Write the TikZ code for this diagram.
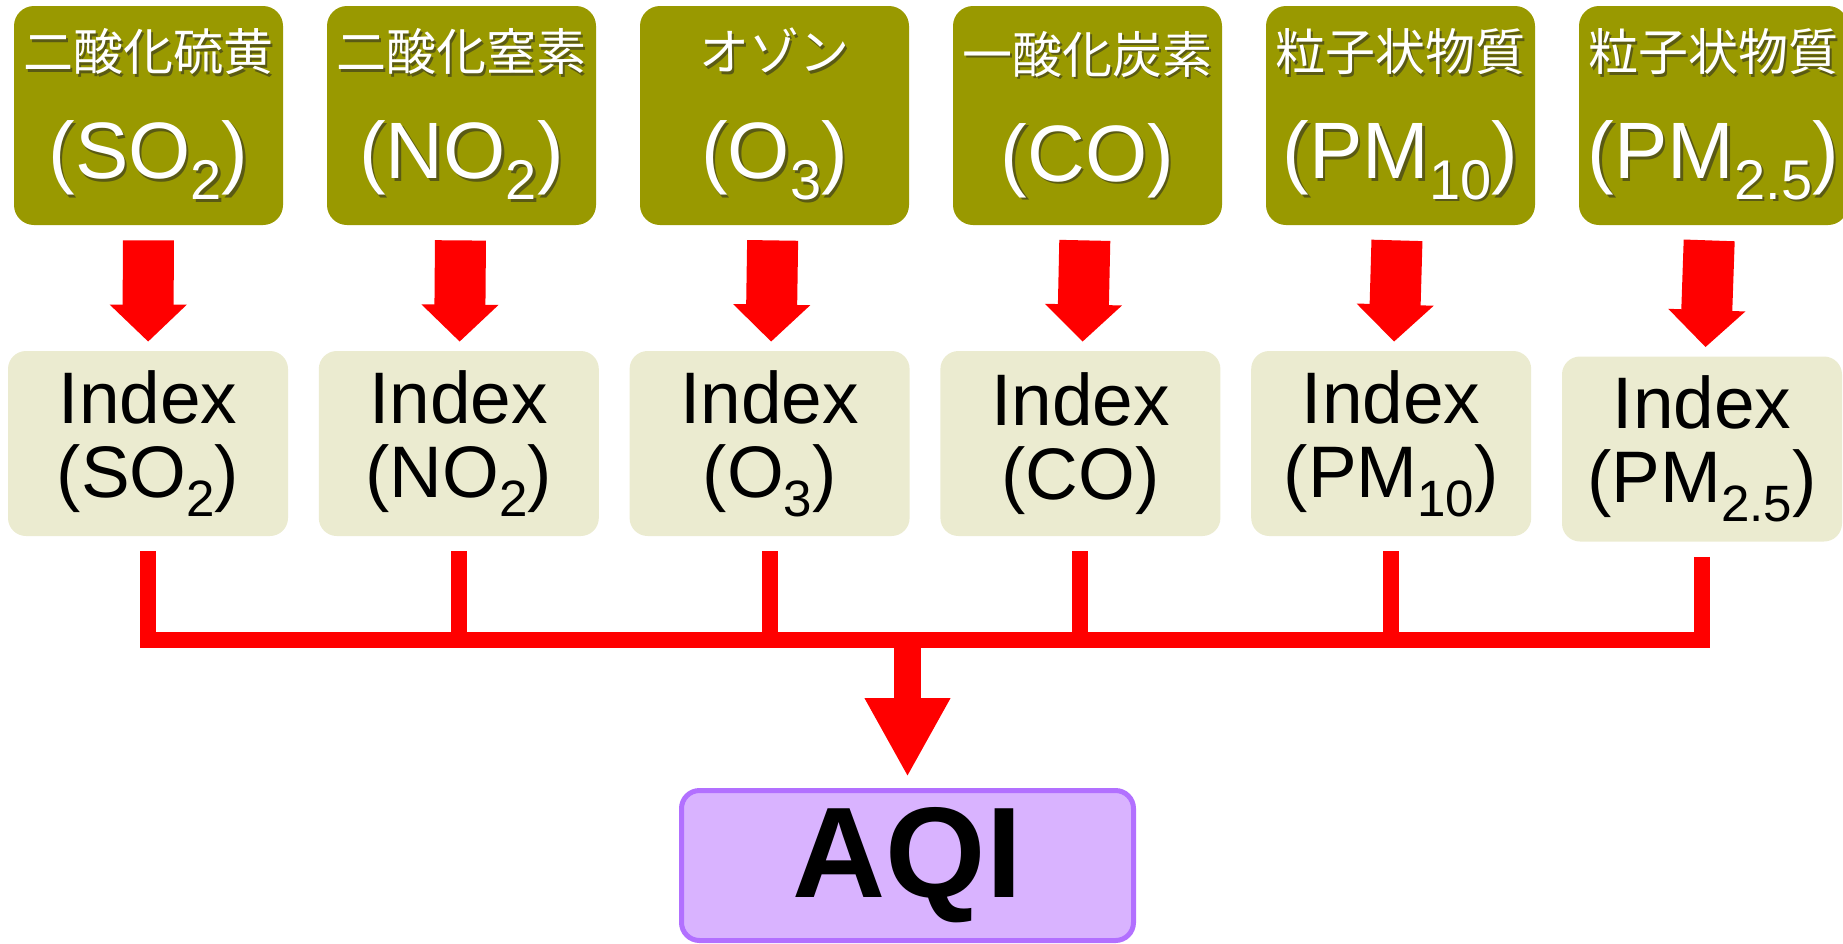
\documentclass[tikz,border=0pt]{standalone}
\usepackage{fontspec}
\setmainfont{Liberation Sans}
\newfontfamily\jpfont{Noto Sans CJK JP}
\usepackage{graphicx}
\usetikzlibrary{arrows.meta}

\definecolor{srcolive}{RGB}{153,153,0}
\definecolor{srcshade}{RGB}{90,90,20}
\definecolor{idxbeige}{RGB}{235,235,208}
\definecolor{aqifill}{RGB}{217,179,255}
\definecolor{aqiedge}{RGB}{178,112,255}

\newcommand{\chemsub}[1]{\raisebox{-0.26em}{\scalebox{0.7}{#1}}}
\newcommand{\shadowed}[1]{\leavevmode\rlap{\kern1.2pt\raisebox{-1.2pt}{\color{srcshade}#1}}#1}

\def\srcstep{313}
\def\idxstep{310.8}
\tikzset{
   srcbox/.style={fill=srcolive, rounded corners=10pt, minimum width=134.5pt, minimum height=109.5pt,
      inner sep=0pt, text=white, align=center, font=\fontsize{40}{54}\selectfont},
   idxbox/.style={fill=idxbeige, rounded corners=9pt, minimum width=140pt, minimum height=92.5pt,
      inner sep=0pt, align=center, font=\fontsize{36.5}{37}\selectfont},
   aqibox/.style={draw=aqiedge, line width=2.5pt, fill=aqifill, rounded corners=9pt,
      minimum width=226pt, minimum height=75pt, font=\bfseries\fontsize{64.5}{70}\selectfont},
   downarrow/.style={draw=red, line width=25.5pt, -{Triangle[width=37.5pt, length=18.5pt]},
      shorten <=7.5pt, shorten >=4.5pt},
   busline/.style={draw=red, line width=8pt},
   aqiarrow/.style={draw=red, line width=13.5pt, -{Triangle[width=40pt, length=39.5pt]}, shorten >=5.5pt}
}

\begin{document}
\begin{tikzpicture}[x=0.5pt, y=-0.5pt]
\useasboundingbox (0,0) rectangle (1843,943);
\coordinate (bus) at (0,640);
\foreach \i/\jp/\chem in {1/二酸化硫黄/SO\chemsub{2}, 2/二酸化窒素/NO\chemsub{2}, 3/オゾン/O\chemsub{3},
                          4/一酸化炭素/CO, 5/粒子状物質/PM\chemsub{10}, 6/粒子状物質/PM\chemsub{2.5}} {
    \pgfmathsetmacro{\srcx}{148.5 + \srcstep*(\i-1)}
    \pgfmathsetmacro{\idxx}{148 + \idxstep*(\i-1)}
    \def\idxy{443.5}
    \ifnum\i=6 \def\idxy{449} \fi
    \node[srcbox] (src-\i) at (\srcx, 115.5)
        {{\jpfont\fontsize{25}{25}\selectfont \shadowed{\jp}}\\\shadowed{(\chem)}};
    \node[idxbox] (idx-\i) at (\idxx, \idxy) {Index\\(\chem)};
    \draw[downarrow] (src-\i) -- (idx-\i);
    \draw[busline, shorten <=7.5pt] (idx-\i) -- (idx-\i |- bus);
}
\draw[busline, line cap=rect] (idx-1 |- bus) -- (idx-6 |- bus);
\node[aqibox] (aqi) at (907.5, 865.5) {AQI};
\draw[aqiarrow] (aqi |- bus) -- (aqi);
\end{tikzpicture}
\end{document}
